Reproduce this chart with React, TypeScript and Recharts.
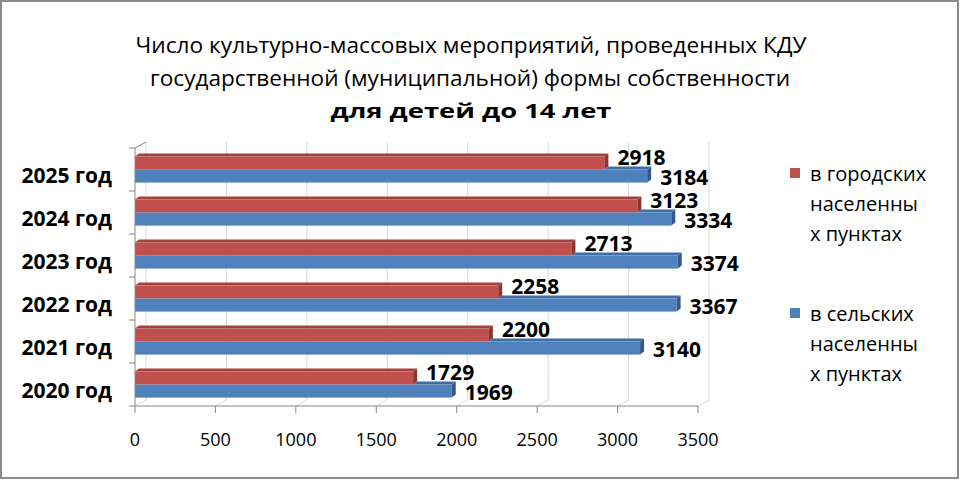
import { BarChart, Bar, XAxis, YAxis, CartesianGrid, LabelList } from 'recharts';

const years = ['2025 год', '2024 год', '2023 год', '2022 год', '2021 год', '2020 год'];
const urban = [2918, 3123, 2713, 2258, 2200, 1729];
const rural = [3184, 3334, 3374, 3367, 3140, 1969];
const xTicks = [0, 500, 1000, 1500, 2000, 2500, 3000, 3500];

const titleLines = [
  'Число культурно-массовых мероприятий, проведенных КДУ',
  'государственной (муниципальной) формы собственности',
  'для детей до 14 лет',
];
const urbanLegend = ['в городских', 'населенны', 'х пунктах'];
const ruralLegend = ['в сельских', 'населенны', 'х пунктах'];

const FONT = '"Open Sans", sans-serif';
const RED = '#c0504d';
const BLUE = '#4f81bd';
const AXIS = '#868686';
const GRID = '#d9d9d9';

// depth of the bars and of the back wall, Excel 3-D style
const DX = 4;
const DY = 3;
const WALL_DX = 11;
const WALL_DY = 6;

const TOP = 148;
const BOTTOM = 406;
const X_AXIS_H = 40;
const BAND = (BOTTOM - TOP) / years.length;

const data = years.map((year, i) => ({ year, urban: urban[i], rural: rural[i] }));

function UrbanShape(props: any) {
  const { x, y, width: w, height: h } = props;
  return (
    <g>
      <rect x={x} y={y} width={w} height={h} fill={RED} />
      <polygon
        points={`${x},${y} ${x + DX},${y - DY} ${x + w + DX},${y - DY} ${x + w},${y}`}
        fill="#a6403d"
      />
      <polygon
        points={`${x + w},${y} ${x + w + DX},${y - DY} ${x + w + DX},${y + h - DY} ${x + w},${y + h}`}
        fill="#8e3532"
      />
    </g>
  );
}

function RuralShape(props: any) {
  const { x, y, width: w, height: h, payload } = props;
  // the top face is hidden behind the urban bar for its length
  const hidden = Math.min(w, (w * payload.urban) / payload.rural);
  const x0 = x + hidden;
  return (
    <g>
      <rect x={x} y={y} width={w} height={h} fill={BLUE} />
      {x0 < x + w && (
        <polygon
          points={`${x0},${y} ${x0 + DX},${y - DY} ${x + w + DX},${y - DY} ${x + w},${y}`}
          fill="#3f6da6"
        />
      )}
      <polygon
        points={`${x + w},${y} ${x + w + DX},${y - DY} ${x + w + DX},${y + h - DY} ${x + w},${y + h}`}
        fill="#35598a"
      />
    </g>
  );
}

function valueLabel(dy: number) {
  return (props: any) => {
    const { x, y, width, height, value } = props;
    return (
      <text
        x={x + width + 13}
        y={y + height / 2 + dy}
        dominantBaseline="central"
        fontFamily={FONT}
        fontWeight="bold"
        fontSize={21}
        fill="#000"
      >
        {value}
      </text>
    );
  };
}

function YearTick(props: any) {
  const { x, y, payload, index } = props;
  const axisX = x + 8;
  return (
    <g>
      <text
        x={x - 15}
        y={y + 5}
        textAnchor="end"
        dominantBaseline="central"
        fontFamily={FONT}
        fontWeight="bold"
        fontSize={21}
        fill="#000"
      >
        {payload.value}
      </text>
      <line x1={axisX - 6} x2={axisX} y1={y - BAND / 2} y2={y - BAND / 2} stroke={AXIS} />
      {index === years.length - 1 && (
        <line x1={axisX - 6} x2={axisX} y1={y + BAND / 2} y2={y + BAND / 2} stroke={AXIS} />
      )}
      {index === 0 && (
        <line
          x1={axisX}
          y1={y - BAND / 2}
          x2={axisX + WALL_DX}
          y2={y - BAND / 2 - WALL_DY}
          stroke={AXIS}
        />
      )}
    </g>
  );
}

function ValueTick(props: any) {
  const { x, y, payload } = props;
  return (
    <text
      x={x}
      y={y + 24}
      textAnchor="middle"
      dominantBaseline="central"
      fontFamily={FONT}
      fontSize={18}
      fill="#000"
    >
      {payload.value}
    </text>
  );
}

function wallLine(props: any) {
  const { x1, y1, y2, index } = props;
  return (
    <g key={`wall-${index}`}>
      <line x1={x1} y1={y2} x2={x1 + WALL_DX} y2={y2 - WALL_DY} stroke={GRID} />
      <line
        x1={x1 + WALL_DX}
        y1={y1 - WALL_DY}
        x2={x1 + WALL_DX}
        y2={y2 - WALL_DY}
        stroke={GRID}
      />
    </g>
  );
}

function LegendBlock({ top, color, lines }: { top: number; color: string; lines: string[] }) {
  return (
    <g>
      <rect x={790} y={top - 5} width={10} height={10} fill={color} />
      {lines.map((line, i) => (
        <text
          key={line + i}
          x={810}
          y={top + i * 30}
          dominantBaseline="central"
          fontFamily={FONT}
          fontSize={20}
          fill="#000"
        >
          {line}
        </text>
      ))}
    </g>
  );
}

export default function App() {
  return (
    <div style={{ position: 'absolute', left: 0, top: 0, width: 960, height: 480, background: '#fff' }}>
      <BarChart
        width={960}
        height={480}
        data={data}
        layout="vertical"
        margin={{ top: TOP, right: 262, bottom: 480 - BOTTOM - X_AXIS_H, left: 0 }}
        barCategoryGap="20%"
        barGap={0}
      >
        <CartesianGrid horizontal={false} vertical={wallLine} />
        <XAxis
          type="number"
          domain={[0, 3500]}
          ticks={xTicks}
          tick={<ValueTick />}
          tickSize={7}
          tickLine={{ stroke: AXIS }}
          axisLine={{ stroke: AXIS }}
          height={X_AXIS_H}
          interval={0}
        />
        <YAxis
          type="category"
          dataKey="year"
          width={135}
          tick={<YearTick />}
          tickLine={false}
          axisLine={{ stroke: AXIS }}
          interval={0}
        />
        <Bar dataKey="urban" name="в городских населенных пунктах" shape={<UrbanShape />} isAnimationActive={false}>
          <LabelList dataKey="urban" content={valueLabel(-6)} />
        </Bar>
        <Bar dataKey="rural" name="в сельских населенных пунктах" shape={<RuralShape />} isAnimationActive={false}>
          <LabelList dataKey="rural" content={valueLabel(1)} />
        </Bar>
      </BarChart>
      <svg
        width={960}
        height={480}
        style={{ position: 'absolute', left: 0, top: 0, pointerEvents: 'none' }}
      >
        <text
          x={471}
          y={45}
          textAnchor="middle"
          dominantBaseline="central"
          fontFamily={FONT}
          fontSize={21}
          textLength={671}
          lengthAdjust="spacingAndGlyphs"
        >
          {titleLines[0]}
        </text>
        <text
          x={470}
          y={78}
          textAnchor="middle"
          dominantBaseline="central"
          fontFamily={FONT}
          fontSize={21}
          textLength={640}
          lengthAdjust="spacingAndGlyphs"
        >
          {titleLines[1]}
        </text>
        <text
          x={471}
          y={110}
          textAnchor="middle"
          dominantBaseline="central"
          fontFamily={FONT}
          fontWeight="bold"
          fontSize={20}
          textLength={281}
          lengthAdjust="spacingAndGlyphs"
        >
          {titleLines[2]}
        </text>
        <LegendBlock top={173} color={RED} lines={urbanLegend} />
        <LegendBlock top={313} color={BLUE} lines={ruralLegend} />
        <rect x={1} y={1} width={957} height={477} fill="none" stroke="#8c8c8c" strokeWidth={2} />
      </svg>
    </div>
  );
}
